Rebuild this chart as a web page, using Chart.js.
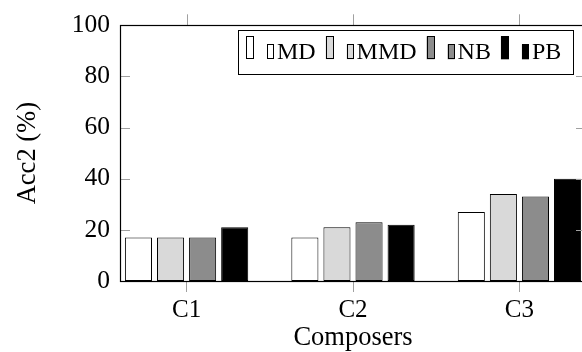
<!DOCTYPE html>
<html><head><meta charset="utf-8">
<script src="https://cdn.jsdelivr.net/npm/chart.js@4/dist/chart.umd.min.js"></script>
<style>html,body{margin:0;padding:0;overflow:hidden;background:#fff}</style>
</head><body>
<canvas id="c" width="600" height="352"></canvas>
<script>
const categories = ['C1', 'C2', 'C3'];
const seriesNames = ['MD', 'MMD', 'NB', 'PB'];
const mdValues = [17, 17, 27];
const mmdValues = [17, 21, 34];
const nbValues = [17, 23, 33];
const pbValues = [21, 22, 40];
const yTickValues = [0, 20, 40, 60, 80, 100];
const xTitle = 'Composers';
const yTitle = 'Acc2 (%)';

const seriesValues = [mdValues, mmdValues, nbValues, pbValues];
const fills = ['#ffffff', '#d9d9d9', '#8c8c8c', '#000000'];
const FONT = "'Liberation Serif', 'Times New Roman', serif";
const TICK_GRAY = '#a0a0a0';

const framePlugin = {
  id: 'frame',
  afterDatasetsDraw(chart) {
    const ctx = chart.ctx, a = chart.chartArea;
    const xs = chart.scales.x, ys = chart.scales.y;
    ctx.save();
    ctx.strokeStyle = TICK_GRAY;
    ctx.lineWidth = 1;
    ctx.beginPath();
    ys.ticks.forEach(t => {
      const py = Math.round(ys.getPixelForValue(t.value)) + 0.5;
      ctx.moveTo(a.left, py); ctx.lineTo(a.left + 10, py);
      ctx.moveTo(a.right - 10, py); ctx.lineTo(a.right, py);
    });
    xs.ticks.forEach(t => {
      const px = Math.round(xs.getPixelForValue(t.value)) + 0.5;
      ctx.moveTo(px, a.top - 11); ctx.lineTo(px, a.top);
    });
    ctx.stroke();
    ctx.strokeStyle = '#000';
    ctx.lineWidth = 1.2;
    ctx.strokeRect(Math.round(a.left) + 0.5, Math.round(a.top) + 0.5,
                   Math.round(a.right - a.left), Math.round(a.bottom - a.top));
    ctx.restore();
  },
  afterDraw(chart) {
    const ctx = chart.ctx, a = chart.chartArea;
    ctx.save();
    ctx.font = '24px ' + FONT;
    const items = chart.data.datasets.map(d => ({
      label: d.label, fill: d.backgroundColor, w: ctx.measureText(d.label).width
    }));
    const padL = 7.7, padR = 11.7, gap = 10, textOff = 31;
    const width = padL + padR + items.reduce((s, it) => s + textOff + it.w, 0) + gap * (items.length - 1);
    const right = a.right - 13, left = right - width, top = a.top + 5, h = 44;
    ctx.fillStyle = '#fff';
    ctx.fillRect(left, top, width, h);
    ctx.strokeStyle = '#000';
    ctx.lineWidth = 1;
    ctx.strokeRect(Math.round(left) + 0.5, Math.round(top) + 0.5, Math.round(width), h);
    const base = top + 29;
    let x = left + padL;
    const bar = (bx, by, bw, bh, f) => {
      ctx.fillStyle = f; ctx.fillRect(bx, by, bw, bh);
      ctx.strokeStyle = '#000'; ctx.lineWidth = 1;
      ctx.strokeRect(Math.round(bx) + 0.5, Math.round(by) + 0.5, bw - 1, bh - 1);
    };
    items.forEach(it => {
      bar(x, base - 23, 8, 23, it.fill);
      bar(x + 21, base - 15, 7, 15, it.fill);
      ctx.fillStyle = '#000';
      ctx.textBaseline = 'alphabetic';
      ctx.textAlign = 'left';
      ctx.fillText(it.label, x + textOff, base);
      x += textOff + it.w + gap;
    });
    ctx.restore();
  }
};

Chart.defaults.font.family = FONT;
Chart.defaults.color = '#000';

new Chart(document.getElementById('c'), {
  type: 'bar',
  data: {
    datasets: seriesNames.map((name, i) => ({
      label: name,
      data: categories.map((c, j) => ({ x: j + 1, y: seriesValues[i][j] })),
      backgroundColor: fills[i],
      borderColor: '#000',
      borderWidth: 1,
      borderSkipped: false,
      categoryPercentage: 0.771,
      barPercentage: 0.844
    }))
  },
  options: {
    responsive: false,
    animation: false,
    devicePixelRatio: 1,
    layout: { padding: { top: 22, right: 14, left: 0, bottom: 0 } },
    plugins: { legend: { display: false }, tooltip: { enabled: false } },
    scales: {
      x: {
        type: 'linear',
        offset: false,
        min: 0.6,
        max: 3.4,
        afterBuildTicks: s => { s.ticks = categories.map((c, i) => ({ value: i + 1 })); },
        afterFit: s => { s.height = 71; },
        ticks: {
          callback: v => categories[Math.round(v) - 1],
          font: { size: 25 },
          padding: 3,
          autoSkip: false,
          maxRotation: 0
        },
        grid: { display: true, offset: false, drawOnChartArea: false, drawTicks: true, tickLength: 11, color: TICK_GRAY },
        border: { display: false },
        title: { display: true, text: xTitle, font: { size: 26.5, lineHeight: 1 }, padding: { top: 0, bottom: 1 } }
      },
      y: {
        type: 'linear',
        min: 0,
        max: 100,
        afterBuildTicks: s => { s.ticks = yTickValues.map(v => ({ value: v })); },
        afterFit: s => { s.width = 120; },
        ticks: { font: { size: 25.5 }, padding: 10 },
        grid: { display: false, drawTicks: false },
        border: { display: false },
        title: { display: true, text: yTitle, font: { size: 26.5, lineHeight: 1 }, padding: { top: 15, bottom: 0 } }
      }
    }
  },
  plugins: [framePlugin]
});
</script>
</body></html>
